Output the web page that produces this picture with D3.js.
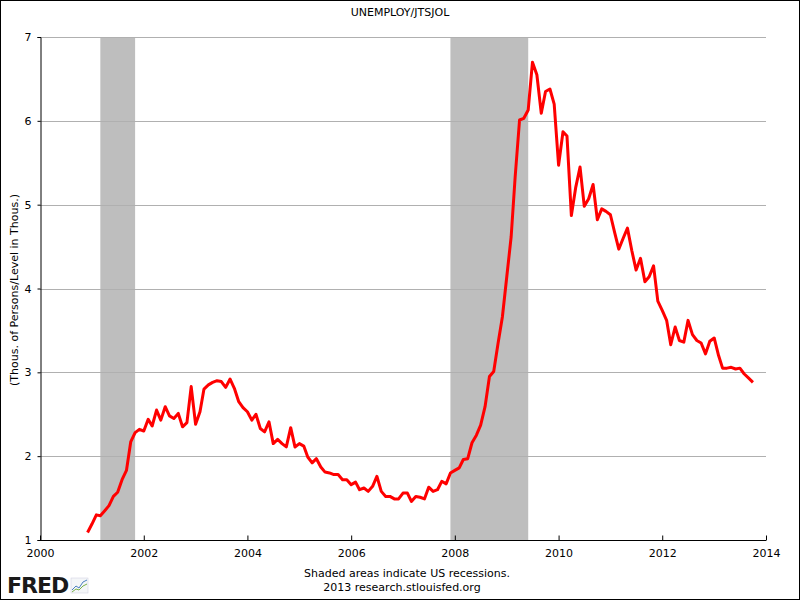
<!DOCTYPE html>
<html>
<head>
<meta charset="utf-8">
<script src="https://cdn.jsdelivr.net/npm/d3@7"></script>
<style>
  html, body { margin: 0; padding: 0; background: #fff; }
  svg text { font-family: "DejaVu Sans", Verdana, sans-serif; }
</style>
</head>
<body>
<script>
// ---- Data ----
const startMonth = "2000-12";
const values = [
  1.09,
  1.19,1.30,1.29,1.35,1.41,1.52,1.57,1.72,1.83,2.17,2.28,2.32,
  2.30,2.44,2.36,2.55,2.43,2.59,2.48,2.45,2.51,2.35,2.40,2.83,
  2.38,2.53,2.80,2.85,2.88,2.90,2.89,2.82,2.92,2.81,2.65,2.58,
  2.53,2.43,2.50,2.33,2.29,2.41,2.15,2.20,2.15,2.11,2.34,2.11,
  2.15,2.12,1.99,1.92,1.97,1.87,1.81,1.80,1.78,1.78,1.72,1.72,
  1.66,1.69,1.60,1.62,1.58,1.64,1.76,1.58,1.52,1.52,1.49,1.49,
  1.56,1.56,1.46,1.52,1.51,1.49,1.63,1.58,1.60,1.70,1.67,1.80,
  1.83,1.86,1.96,1.97,2.16,2.25,2.37,2.59,2.95,3.01,3.35,3.66,
  4.14,4.62,5.33,6.01,6.03,6.13,6.70,6.55,6.09,6.35,6.38,6.20,
  5.47,5.87,5.82,4.87,5.20,5.45,4.98,5.07,5.24,4.82,4.95,4.92,
  4.88,4.66,4.47,4.60,4.72,4.45,4.22,4.36,4.08,4.14,4.27,3.85,
  3.74,3.62,3.33,3.54,3.38,3.36,3.62,3.45,3.38,3.35,3.22,3.37,
  3.41,3.20,3.05,3.05,3.06,3.04,3.05,2.98,2.93,2.88
];
const recessions = [
  { start: "2001-03", end: "2001-11" },
  { start: "2007-12", end: "2009-06" }
];
const xTickYears = [2000, 2002, 2004, 2006, 2008, 2010, 2012, 2014];
const yTicks = [1, 2, 3, 4, 5, 6, 7];
const title = "UNEMPLOY/JTSJOL";
const yLabel = "(Thous. of Persons/Level in Thous.)";
const note1 = "Shaded areas indicate US recessions.";
const note2 = "2013 research.stlouisfed.org";

// ---- Build ----
const parse = d3.timeParse("%Y-%m");
const t0 = parse(startMonth);
const series = values.map((v, i) => ({ date: d3.timeMonth.offset(t0, i), value: v }));

const W = 800, H = 600;
const svg = d3.select("body").append("svg").attr("width", W).attr("height", H);

svg.append("rect").attr("x", 0.5).attr("y", 0.5).attr("width", W - 1).attr("height", H - 1)
  .attr("fill", "#fff").attr("stroke", "#000").attr("stroke-width", 1);

const pLeft = 40, pRight = 766, pTop = 37, pBottom = 540;
const x = d3.scaleTime().domain([new Date(2000, 0, 1), new Date(2014, 0, 1)]).range([pLeft, pRight]);
const y = d3.scaleLinear().domain([1, 7]).range([pBottom, pTop]);

// recessions
svg.append("g").selectAll("rect").data(recessions).join("rect")
  .attr("x", d => x(parse(d.start)))
  .attr("width", d => x(parse(d.end)) - x(parse(d.start)))
  .attr("y", pTop).attr("height", pBottom - pTop)
  .attr("fill", "#bebebe");

// gridlines
svg.append("g").selectAll("line").data(yTicks.filter(v => v > 1)).join("line")
  .attr("x1", pLeft).attr("x2", pRight)
  .attr("y1", d => Math.round(y(d)) + 0.5).attr("y2", d => Math.round(y(d)) + 0.5)
  .attr("stroke", "#b0b0b0").attr("stroke-width", 1);

// y axis
const yAxis = d3.axisLeft(y).tickValues(yTicks).tickSize(3).tickPadding(6).tickFormat(d3.format("d"));
const gy = svg.append("g").attr("transform", `translate(${pLeft + 0.5},0)`).call(yAxis);
gy.select(".domain").attr("stroke", "#000");
gy.selectAll("text").attr("font-size", 11).attr("fill", "#000")
  .style("font-family", "'DejaVu Sans', sans-serif");

// x axis
const xAxis = d3.axisBottom(x).tickValues(xTickYears.map(yr => new Date(yr, 0, 1)))
  .tickSize(-5).tickPadding(9).tickFormat(d3.timeFormat("%Y"));
const gx = svg.append("g").attr("transform", `translate(0,${pBottom + 0.5})`).call(xAxis);
gx.select(".domain").attr("stroke", "#000").attr("d", `M${pLeft},0H${pRight}`);
gx.selectAll("line").attr("stroke", "#000");
gx.selectAll("text").attr("font-size", 11).attr("fill", "#000")
  .style("font-family", "'DejaVu Sans', sans-serif");

// line
const line = d3.line().x(d => x(d.date)).y(d => y(d.value));
svg.append("path").datum(series)
  .attr("d", line).attr("fill", "none")
  .attr("stroke", "#ff0000").attr("stroke-width", 3)
  .attr("stroke-linejoin", "round").attr("stroke-linecap", "butt");

// texts
svg.append("text").attr("x", 400).attr("y", 16).attr("text-anchor", "middle")
  .attr("font-size", 11).text(title);
svg.append("text").attr("transform", "translate(18,290) rotate(-90)")
  .attr("text-anchor", "middle").attr("font-size", 11).text(yLabel);
svg.append("text").attr("x", 407).attr("y", 577).attr("text-anchor", "middle")
  .attr("font-size", 11).text(note1);
svg.append("text").attr("x", 402).attr("y", 591).attr("text-anchor", "middle")
  .attr("font-size", 11).text(note2);

// FRED logo
const logo = svg.append("g").attr("transform", "translate(7,577)");
logo.append("text").attr("x", 0).attr("y", 16).attr("font-size", 22).attr("font-weight", "bold")
  .attr("letter-spacing", -1)
  .style("font-family", "'DejaVu Sans', sans-serif")
  .attr("fill", "#1a1a1a").text("FRED");
const icon = logo.append("g").attr("transform", "translate(64,0)");
icon.append("rect").attr("x", 0).attr("y", 1).attr("width", 17).attr("height", 15)
  .attr("fill", "#f4f6f8").attr("stroke", "#ccd").attr("stroke-width", 0.5);
icon.append("path").attr("d", "M1,13 L5,9 L8,11 L12,5 L16,3").attr("fill", "none")
  .attr("stroke", "#4a7fc0").attr("stroke-width", 1);
icon.append("path").attr("d", "M1,15 L5,12 L8,13 L12,9 L16,7").attr("fill", "none")
  .attr("stroke", "#7ab04a").attr("stroke-width", 1);
</script>
</body>
</html>
